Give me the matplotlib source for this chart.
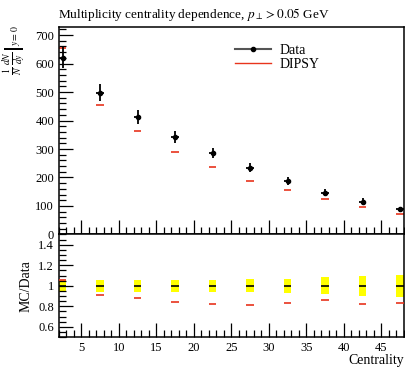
import numpy as np
import matplotlib
matplotlib.use("Agg")
import matplotlib.pyplot as plt
from matplotlib.ticker import MultipleLocator

plt.rcParams['font.family'] = ['Liberation Serif', 'DejaVu Serif']
plt.rcParams['mathtext.fontset'] = 'stix'

# centrality bins (centres), data and MC
centrality = [2.5, 7.5, 12.5, 17.5, 22.5, 27.5, 32.5, 37.5, 42.5, 47.5]
data = [621, 497, 412, 343, 286, 234, 187, 147, 115, 88]
data_rel_err = [0.06, 0.06, 0.06, 0.06, 0.06, 0.065, 0.07, 0.085, 0.10, 0.105]
dipsy = [655, 453, 364, 289, 236, 189, 156, 126, 95, 73]

x = np.array(centrality)
d = np.array(data)
rel = np.array(data_rel_err)
mc = np.array(dipsy)
derr = d * rel
ratio = mc / d
red = '#e8341c'

fig = plt.figure(figsize=(4.06, 3.69), dpi=100)
ax = fig.add_axes([0.1453, 0.3645, 0.8497, 0.5615])
rax = fig.add_axes([0.1453, 0.0867, 0.8497, 0.2778])

# main panel
ax.hlines(mc, x - 0.5, x + 0.5, color=red, lw=1.2, label='DIPSY', zorder=2)
ax.errorbar(x, d, yerr=derr, xerr=0.5, fmt='o', ms=3, color='black',
            ecolor='black', elinewidth=1.3, capsize=0, zorder=3)
ax.set_xlim(2, 48)
ax.set_ylim(0, 727)
ax.yaxis.set_major_locator(MultipleLocator(100))
ax.yaxis.set_minor_locator(MultipleLocator(20))
ax.xaxis.set_major_locator(MultipleLocator(5))
ax.xaxis.set_minor_locator(MultipleLocator(1))
ax.tick_params(which='both', direction='in', top=False, right=False, labelsize=9)
ax.tick_params(which='major', length=10, width=0.9)
ax.tick_params(which='minor', length=5, width=0.9)
ax.tick_params(axis='x', labelbottom=False)
for s in ax.spines.values():
    s.set_linewidth(1.1)

# legend drawn by hand to match Rivet style
lh_data, = ax.plot([], [], color='#555555', lw=1.5, marker='o', ms=3,
                   mfc='black', mec='black')
lh_mc, = ax.plot([], [], color=red, lw=1.0)
ax.legend([lh_data, lh_mc], ['Data', 'DIPSY'], loc='upper left',
          bbox_to_anchor=(0.475, 0.98), frameon=False, fontsize=10,
          handlelength=2.6, handletextpad=0.6, labelspacing=0.1)

fig.text(0.143, 0.962, r'Multiplicity centrality dependence, $p_\perp > 0.05$ GeV',
         fontsize=9.5, ha='left', va='center')
fig.text(0.035, 0.93, r'$\left.\frac{1}{N}\,\frac{dN}{dy}\right|_{y=0}$', fontsize=10,
         rotation=90, ha='center', va='top')

# ratio panel
rax.bar(x, 2 * rel, bottom=1 - rel, width=1.0, color='yellow', lw=0, zorder=1)
rax.hlines(np.ones_like(x), x - 0.5, x + 0.5, color='black', lw=1.2, zorder=2)
rax.hlines(ratio, x - 0.5, x + 0.5, color=red, lw=1.2, zorder=3)
rax.set_xlim(2, 48)
rax.set_ylim(0.5, 1.5)
rax.yaxis.set_major_locator(MultipleLocator(0.2))
rax.yaxis.set_minor_locator(MultipleLocator(0.05))
rax.xaxis.set_major_locator(MultipleLocator(5))
rax.xaxis.set_minor_locator(MultipleLocator(1))
rax.set_yticks([0.6, 0.8, 1.0, 1.2, 1.4])
rax.set_yticklabels(['0.6', '0.8', '1', '1.2', '1.4'])
rax.tick_params(which='both', direction='in', top=False, right=False, labelsize=9)
rax.tick_params(which='major', length=10, width=0.9)
rax.tick_params(which='minor', length=5, width=0.9)
for s in rax.spines.values():
    s.set_linewidth(1.1)
rax.set_ylabel('MC/Data', fontsize=10, labelpad=4)
rax.set_xlabel('Centrality', fontsize=10, loc='right', labelpad=0)

fig.savefig('out.png', dpi=100)
